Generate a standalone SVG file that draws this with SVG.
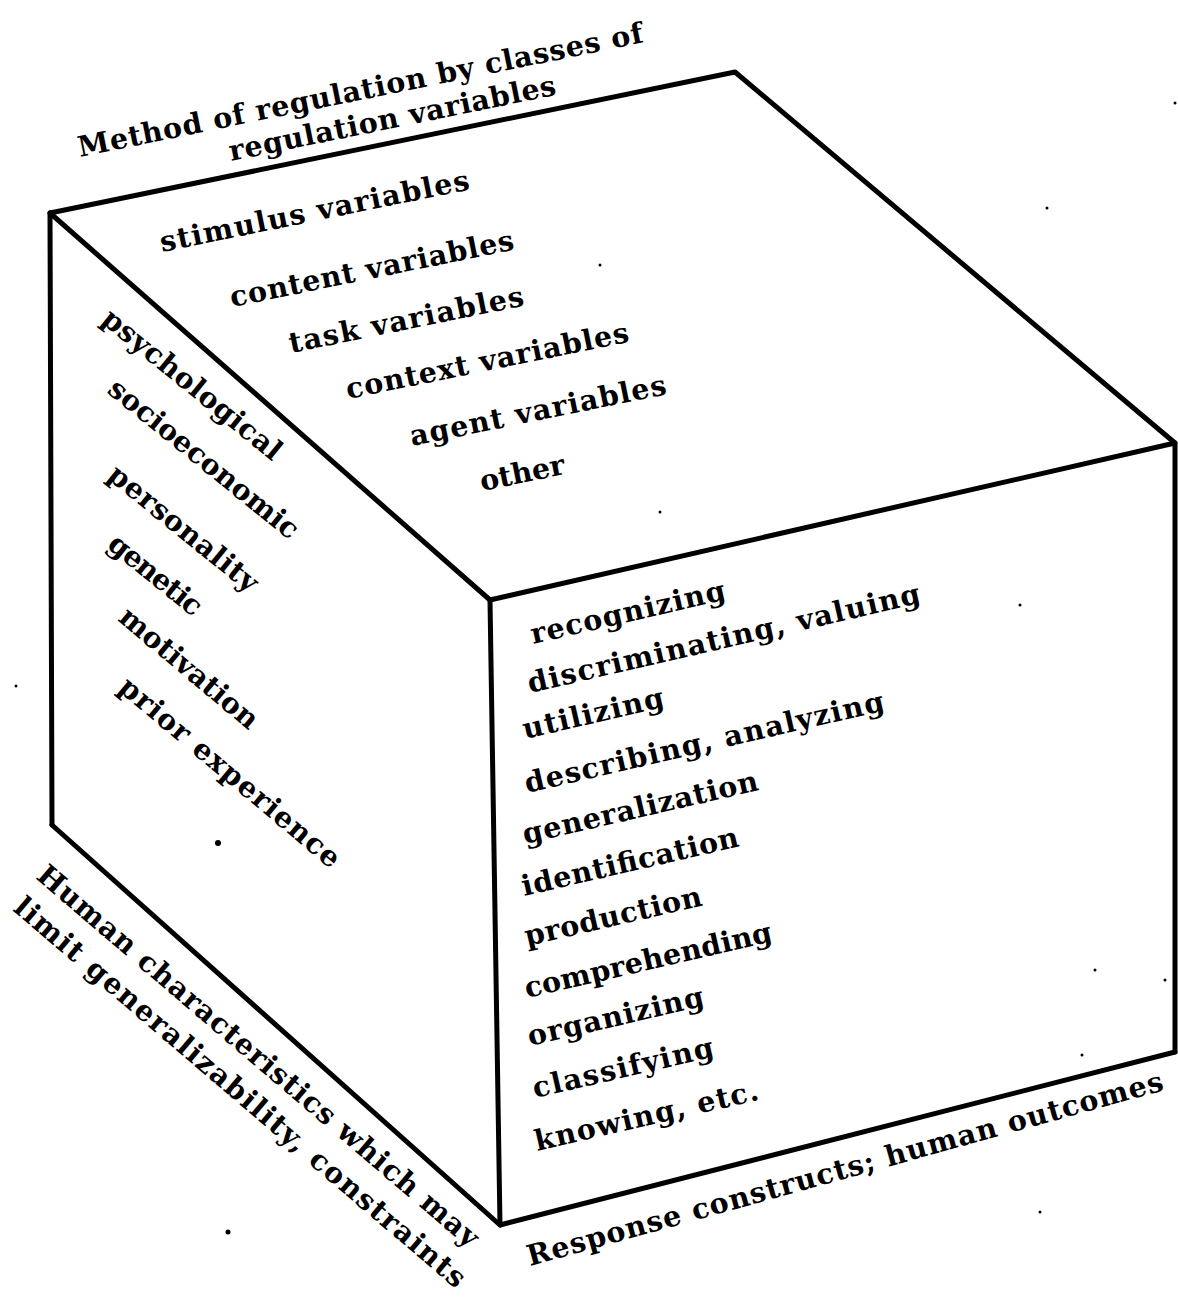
<svg xmlns="http://www.w3.org/2000/svg" width="1178" height="1302" viewBox="0 0 1178 1302">
<style>
.t{font-family:"DejaVu Serif","Liberation Serif",serif;font-size:28.5px;font-weight:bold;fill:#000}
.e{stroke:#000;stroke-width:5;fill:none;stroke-linecap:round;stroke-linejoin:round}
.d{fill:#000}
</style>
<rect width="1178" height="1302" fill="#fff"/>
<g id="edges">
<polyline class="e" points="52,825 50,213 735,72 1175,443 1175,1052"/>
<polyline class="e" points="50,213 490,600 1175,443"/>
<polyline class="e" points="490,600 500,1225 1175,1052"/>
<line class="e" x1="52" y1="825" x2="500" y2="1225"/>
</g>
<g id="axis-top-label">
<text class="t" transform="translate(80 157) rotate(-11.5)" textLength="576" lengthAdjust="spacing">Method of regulation by classes of</text>
<text class="t" transform="translate(231 161) rotate(-11.5)" textLength="333" lengthAdjust="spacing">regulation variables</text>
</g>
<g id="top-face">
<text class="t" transform="translate(162 252) rotate(-11.5)" textLength="315" lengthAdjust="spacing">stimulus variables</text>
<text class="t" transform="translate(232 307) rotate(-11.5)" textLength="289" lengthAdjust="spacing">content variables</text>
<text class="t" transform="translate(291 353) rotate(-11.5)" textLength="239" lengthAdjust="spacing">task variables</text>
<text class="t" transform="translate(348 399) rotate(-11.5)" textLength="288" lengthAdjust="spacing">context variables</text>
<text class="t" transform="translate(412 446) rotate(-11.5)" textLength="261" lengthAdjust="spacing">agent variables</text>
<text class="t" transform="translate(482 491) rotate(-11.5)" textLength="86" lengthAdjust="spacing">other</text>
</g>
<g id="left-face">
<text class="t" transform="translate(100 322) rotate(39)" textLength="222" lengthAdjust="spacing">psychological</text>
<text class="t" transform="translate(106 392) rotate(39)" textLength="236" lengthAdjust="spacing">socioeconomic</text>
<text class="t" transform="translate(106 478) rotate(39)" textLength="184" lengthAdjust="spacing">personality</text>
<text class="t" transform="translate(106 547) rotate(39)" textLength="112" lengthAdjust="spacing">genetic</text>
<text class="t" transform="translate(117 620) rotate(40)" textLength="172" lengthAdjust="spacing">motivation</text>
<text class="t" transform="translate(117 690) rotate(40)" textLength="279" lengthAdjust="spacing">prior experience</text>
</g>
<g id="axis-left-label">
<text class="t" transform="translate(35 878) rotate(40.5)" textLength="571" lengthAdjust="spacing">Human characteristics which may</text>
<text class="t" transform="translate(12 910) rotate(40.5)" textLength="584" lengthAdjust="spacing">limit generalizability, constraints</text>
</g>
<g id="front-face">
<text class="t" transform="translate(533 644) rotate(-13)" textLength="199" lengthAdjust="spacing">recognizing</text>
<text class="t" transform="translate(530 693) rotate(-13)" textLength="402" lengthAdjust="spacing">discriminating, valuing</text>
<text class="t" transform="translate(525 739) rotate(-13)" textLength="144" lengthAdjust="spacing">utilizing</text>
<text class="t" transform="translate(527 793) rotate(-13)" textLength="368" lengthAdjust="spacing">describing, analyzing</text>
<text class="t" transform="translate(525 844) rotate(-13)" textLength="241" lengthAdjust="spacing">generalization</text>
<text class="t" transform="translate(524 896) rotate(-13)" textLength="222" lengthAdjust="spacing">identification</text>
<text class="t" transform="translate(527 946) rotate(-13)" textLength="181" lengthAdjust="spacing">production</text>
<text class="t" transform="translate(527 998) rotate(-13)" textLength="253" lengthAdjust="spacing">comprehending</text>
<text class="t" transform="translate(530 1046) rotate(-13)" textLength="180" lengthAdjust="spacing">organizing</text>
<text class="t" transform="translate(535 1098) rotate(-13)" textLength="185" lengthAdjust="spacing">classifying</text>
<text class="t" transform="translate(537 1151) rotate(-13)" textLength="229" lengthAdjust="spacing">knowing, etc.</text>
</g>
<g id="axis-front-label">
<text class="t" transform="translate(530 1266) rotate(-15.5)" textLength="659" lengthAdjust="spacing">Response constructs; human outcomes</text>
</g>
<g id="specks">
<circle class="d" cx="218" cy="843" r="3"/>
<circle class="d" cx="228" cy="1232" r="2.5"/>
<circle class="d" cx="16" cy="686" r="1.5"/>
<circle class="d" cx="600" cy="265" r="1.5"/>
<circle class="d" cx="660" cy="512" r="1.5"/>
<circle class="d" cx="1047" cy="208" r="1.5"/>
<circle class="d" cx="1175" cy="103" r="1.5"/>
<circle class="d" cx="1020" cy="605" r="1.5"/>
<circle class="d" cx="1095" cy="970" r="1.5"/>
<circle class="d" cx="1165" cy="980" r="1.5"/>
<circle class="d" cx="1040" cy="1212" r="1.5"/>
<circle class="d" cx="1082" cy="1055" r="1.5"/>
</g>
</svg>
